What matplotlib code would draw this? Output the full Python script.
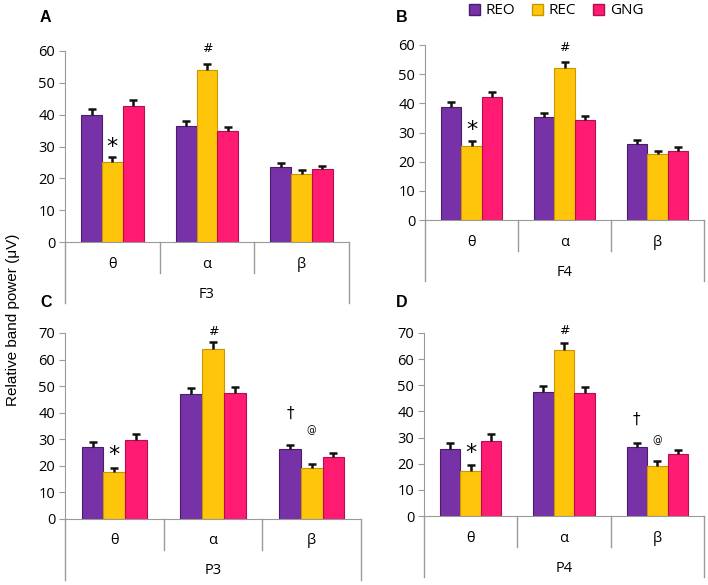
import numpy as np
import matplotlib.pyplot as plt
from matplotlib.patches import Patch
from matplotlib.transforms import blended_transform_factory

plt.rcParams['font.family'] = ['Open Sans', 'DejaVu Sans']

bands = ['θ', 'α', 'β']
conditions = ['REO', 'REC', 'GNG']
sites = ['F3', 'F4', 'P3', 'P4']
letters = ['A', 'B', 'C', 'D']
y_max = [60, 60, 70, 70]

# rows = REO, REC, GNG ; cols = theta, alpha, beta
f3_means = [[40.0, 36.5, 23.5], [25.0, 54.0, 21.5], [42.7, 35.0, 22.8]]
f3_errs = [[1.9, 1.4, 1.3], [1.8, 1.8, 1.1], [2.0, 1.2, 1.2]]
f4_means = [[38.9, 35.2, 25.9], [25.4, 52.2, 22.6], [42.1, 34.3, 23.8]]
f4_errs = [[1.7, 1.5, 1.5], [1.8, 2.0, 1.2], [1.9, 1.4, 1.3]]
p3_means = [[27.1, 47.2, 26.3], [17.6, 64.0, 19.3], [29.6, 47.6, 23.3]]
p3_errs = [[1.8, 2.0, 1.4], [1.6, 2.5, 1.4], [2.3, 2.1, 1.5]]
p4_means = [[25.8, 47.5, 26.5], [17.3, 63.6, 19.1], [28.8, 47.2, 23.8]]
p4_errs = [[2.2, 2.1, 1.6], [2.3, 2.6, 1.8], [2.5, 2.2, 1.4]]

all_means = [f3_means, f4_means, p3_means, p4_means]
all_errs = [f3_errs, f4_errs, p3_errs, p4_errs]

# significance marks: (symbol, condition, band, px above cap, fontsize)
marks = [
    [('*', 1, 0, 10, 16), ('#', 1, 1, 16, 9)],
    [('*', 1, 0, 11, 16), ('#', 1, 1, 14, 9)],
    [('*', 1, 0, 13, 16), ('#', 1, 1, 11, 9), ('†', 0, 2, 32, 11), ('@', 1, 2, 34, 7)],
    [('*', 1, 0, 12, 16), ('#', 1, 1, 12, 9), ('†', 0, 2, 23, 11), ('@', 1, 2, 21, 7)],
]

colors = ['#7632A6', '#FFC50A', '#FF1A72']
edges = ['#4A1C6C', '#C99500', '#B50E4F']
axis_grey = '#9A9A9A'

W, H = 708, 585
# axes boxes in pixels: left, top, right, bottom
boxes = [(65, 51, 349, 242), (425, 45, 704, 220),
         (65, 333, 361, 519), (424, 333, 704, 516)]

fig = plt.figure(figsize=(W / 100, H / 100), dpi=100)

x = np.arange(len(bands))
bw = 0.22

for k in range(4):
    l, t, r, b = boxes[k]
    ax = fig.add_axes([l / W, 1 - b / H, (r - l) / W, (b - t) / H])
    h_px = b - t
    means = all_means[k]
    errs = all_errs[k]
    for i in range(3):
        xs = x + (i - 1) * bw
        ax.bar(xs, means[i], bw, color=colors[i], edgecolor=edges[i],
               linewidth=0.8, zorder=2)
        eb = ax.errorbar(xs, means[i], yerr=[np.zeros(3), errs[i]], fmt='none',
                         ecolor='#111111', elinewidth=1.8, capsize=3.2,
                         capthick=1.8, zorder=3)
        eb[1][0].set_visible(False)  # only the upper cap
    ax.set_xlim(-0.5, 2.5)
    ax.set_ylim(0, y_max[k])
    ax.set_yticks(np.arange(0, y_max[k] + 1, 10))
    ax.set_xticks([])
    ax.tick_params(axis='y', length=4, color=axis_grey, labelsize=10.5, pad=3)
    for s in ['top', 'right']:
        ax.spines[s].set_visible(False)
    for s in ['left', 'bottom']:
        ax.spines[s].set_color(axis_grey)

    # multi-level category axis under the bars
    tr = blended_transform_factory(ax.transData, ax.transAxes)
    fy = lambda px: -px / h_px
    for sep in [0.5, 1.5]:
        ax.plot([sep, sep], [0, fy(31)], transform=tr, color=axis_grey,
                lw=1, clip_on=False)
    for edge in [-0.5, 2.5]:
        ax.plot([edge, edge], [0, fy(61)], transform=tr, color=axis_grey,
                lw=1, clip_on=False)
    for j, band in enumerate(bands):
        ax.text(x[j], fy(22), band, transform=tr, ha='center', va='center',
                fontsize=10.5)
    ax.text(1, fy(52), sites[k], transform=tr, ha='center', va='center',
            fontsize=10.5)

    for sym, ci, bi, off, fs in marks[k]:
        top = means[ci][bi] + errs[ci][bi]
        ax.annotate(sym, (x[bi] + (ci - 1) * bw, top), xytext=(0, off * 0.72),
                    textcoords='offset points', ha='center', va='center',
                    fontsize=fs, family=['DejaVu Sans'])

    lx = 40 if k % 2 == 0 else 396
    ly = 18 if k < 2 else 302
    fig.text(lx / W, 1 - ly / H, letters[k], fontsize=11.5, fontweight='bold',
             family=['Liberation Sans'], ha='left', va='center')

fig.text(13 / W, 1 - 320 / H, 'Relative band power (μV)', rotation=90,
         ha='center', va='center', fontsize=11, family=['Liberation Sans'])

handles = [Patch(facecolor=colors[i], edgecolor=edges[i]) for i in range(3)]
fig.legend(handles, conditions, loc='center', bbox_to_anchor=(556 / W, 1 - 11 / H),
           ncol=3, frameon=False, fontsize=11, handlelength=0.75,
           handleheight=0.75, handletextpad=0.35, columnspacing=1.1)

fig.savefig('out.png', dpi=100)
